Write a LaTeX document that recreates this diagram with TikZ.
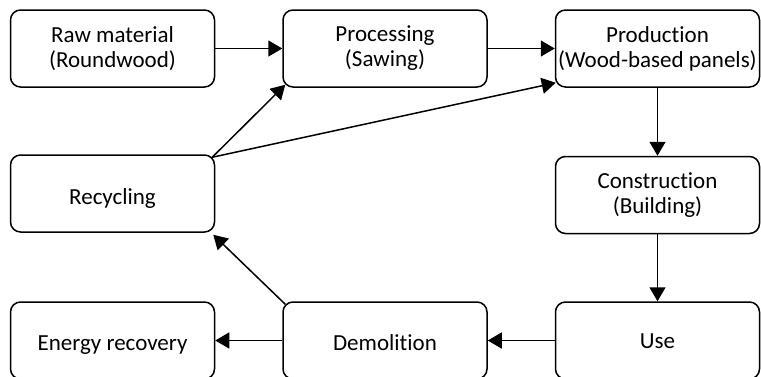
\documentclass[tikz,border=0pt]{standalone}
\usepackage{fontspec}
\setmainfont{Carlito}[Ligatures={NoCommon,NoRare}]
\usetikzlibrary{arrows.meta,calc}
\begin{document}
\begin{tikzpicture}[x=0.5pt,y=-0.5pt,
  stage/.style={draw, line width=0.75pt, rounded corners=5pt,
    minimum width=102pt, minimum height=38.5pt, align=center,
    inner sep=0pt, font=\fontsize{11.5}{12.5}\selectfont},
  % single-line labels sit with a fixed baseline inside the box
  oneline/.style={text depth=0pt, text height=#1},
  flow/.style={line width=0.75pt, -{Triangle[length=7pt,width=8pt]}}]
  \useasboundingbox (0,0) rectangle (761,376);
  \begin{scope}
    \clip (0,0) rectangle (761,376);
    % top row
    \node[stage] (raw)  at (112.5,48.5) {Raw material\\(Roundwood)};
    \node[stage] (proc) at (385,48.5)   {Processing\\(Sawing)};
    \node[stage] (prod) at (657.5,48.5) {Production\\(Wood-based panels)};
    % middle row
    \node[stage, oneline=11.4pt] (recy) at (112.5,193.5) {Recycling};
    \node[stage] (cons) at (657.5,195) {Construction\\(Building)};
    % bottom row
    \node[stage, oneline=9.9pt] (ener) at (112.5,340.5) {Energy recovery};
    \node[stage, oneline=9.9pt] (demo) at (385,340.5)   {Demolition};
    \node[stage, oneline=7.6pt] (use)  at (657.5,340.5) {Use};
  \end{scope}
  % material flow
  \draw[flow] (raw.east) -- (proc.west);
  \draw[flow] (proc.east) -- (prod.west);
  \draw[flow] (prod.south) -- (cons.north);
  \draw[flow] (cons.south) -- (use.north);
  \draw[flow] (use.west) -- (demo.east);
  \draw[flow] (demo.west) -- (ener.east);
  \draw[flow] ($(demo.north west)+(3,3)$) -- ($(recy.south east)+(-2,2)$);
  \draw[flow] ($(recy.north east)+(-3,3)$) -- ($(proc.south west)+(3,-3)$);
  \draw[flow] ($(recy.north east)+(-3,3)$) -- ($(prod.south west)+(1,-5)$);
\end{tikzpicture}
\end{document}
